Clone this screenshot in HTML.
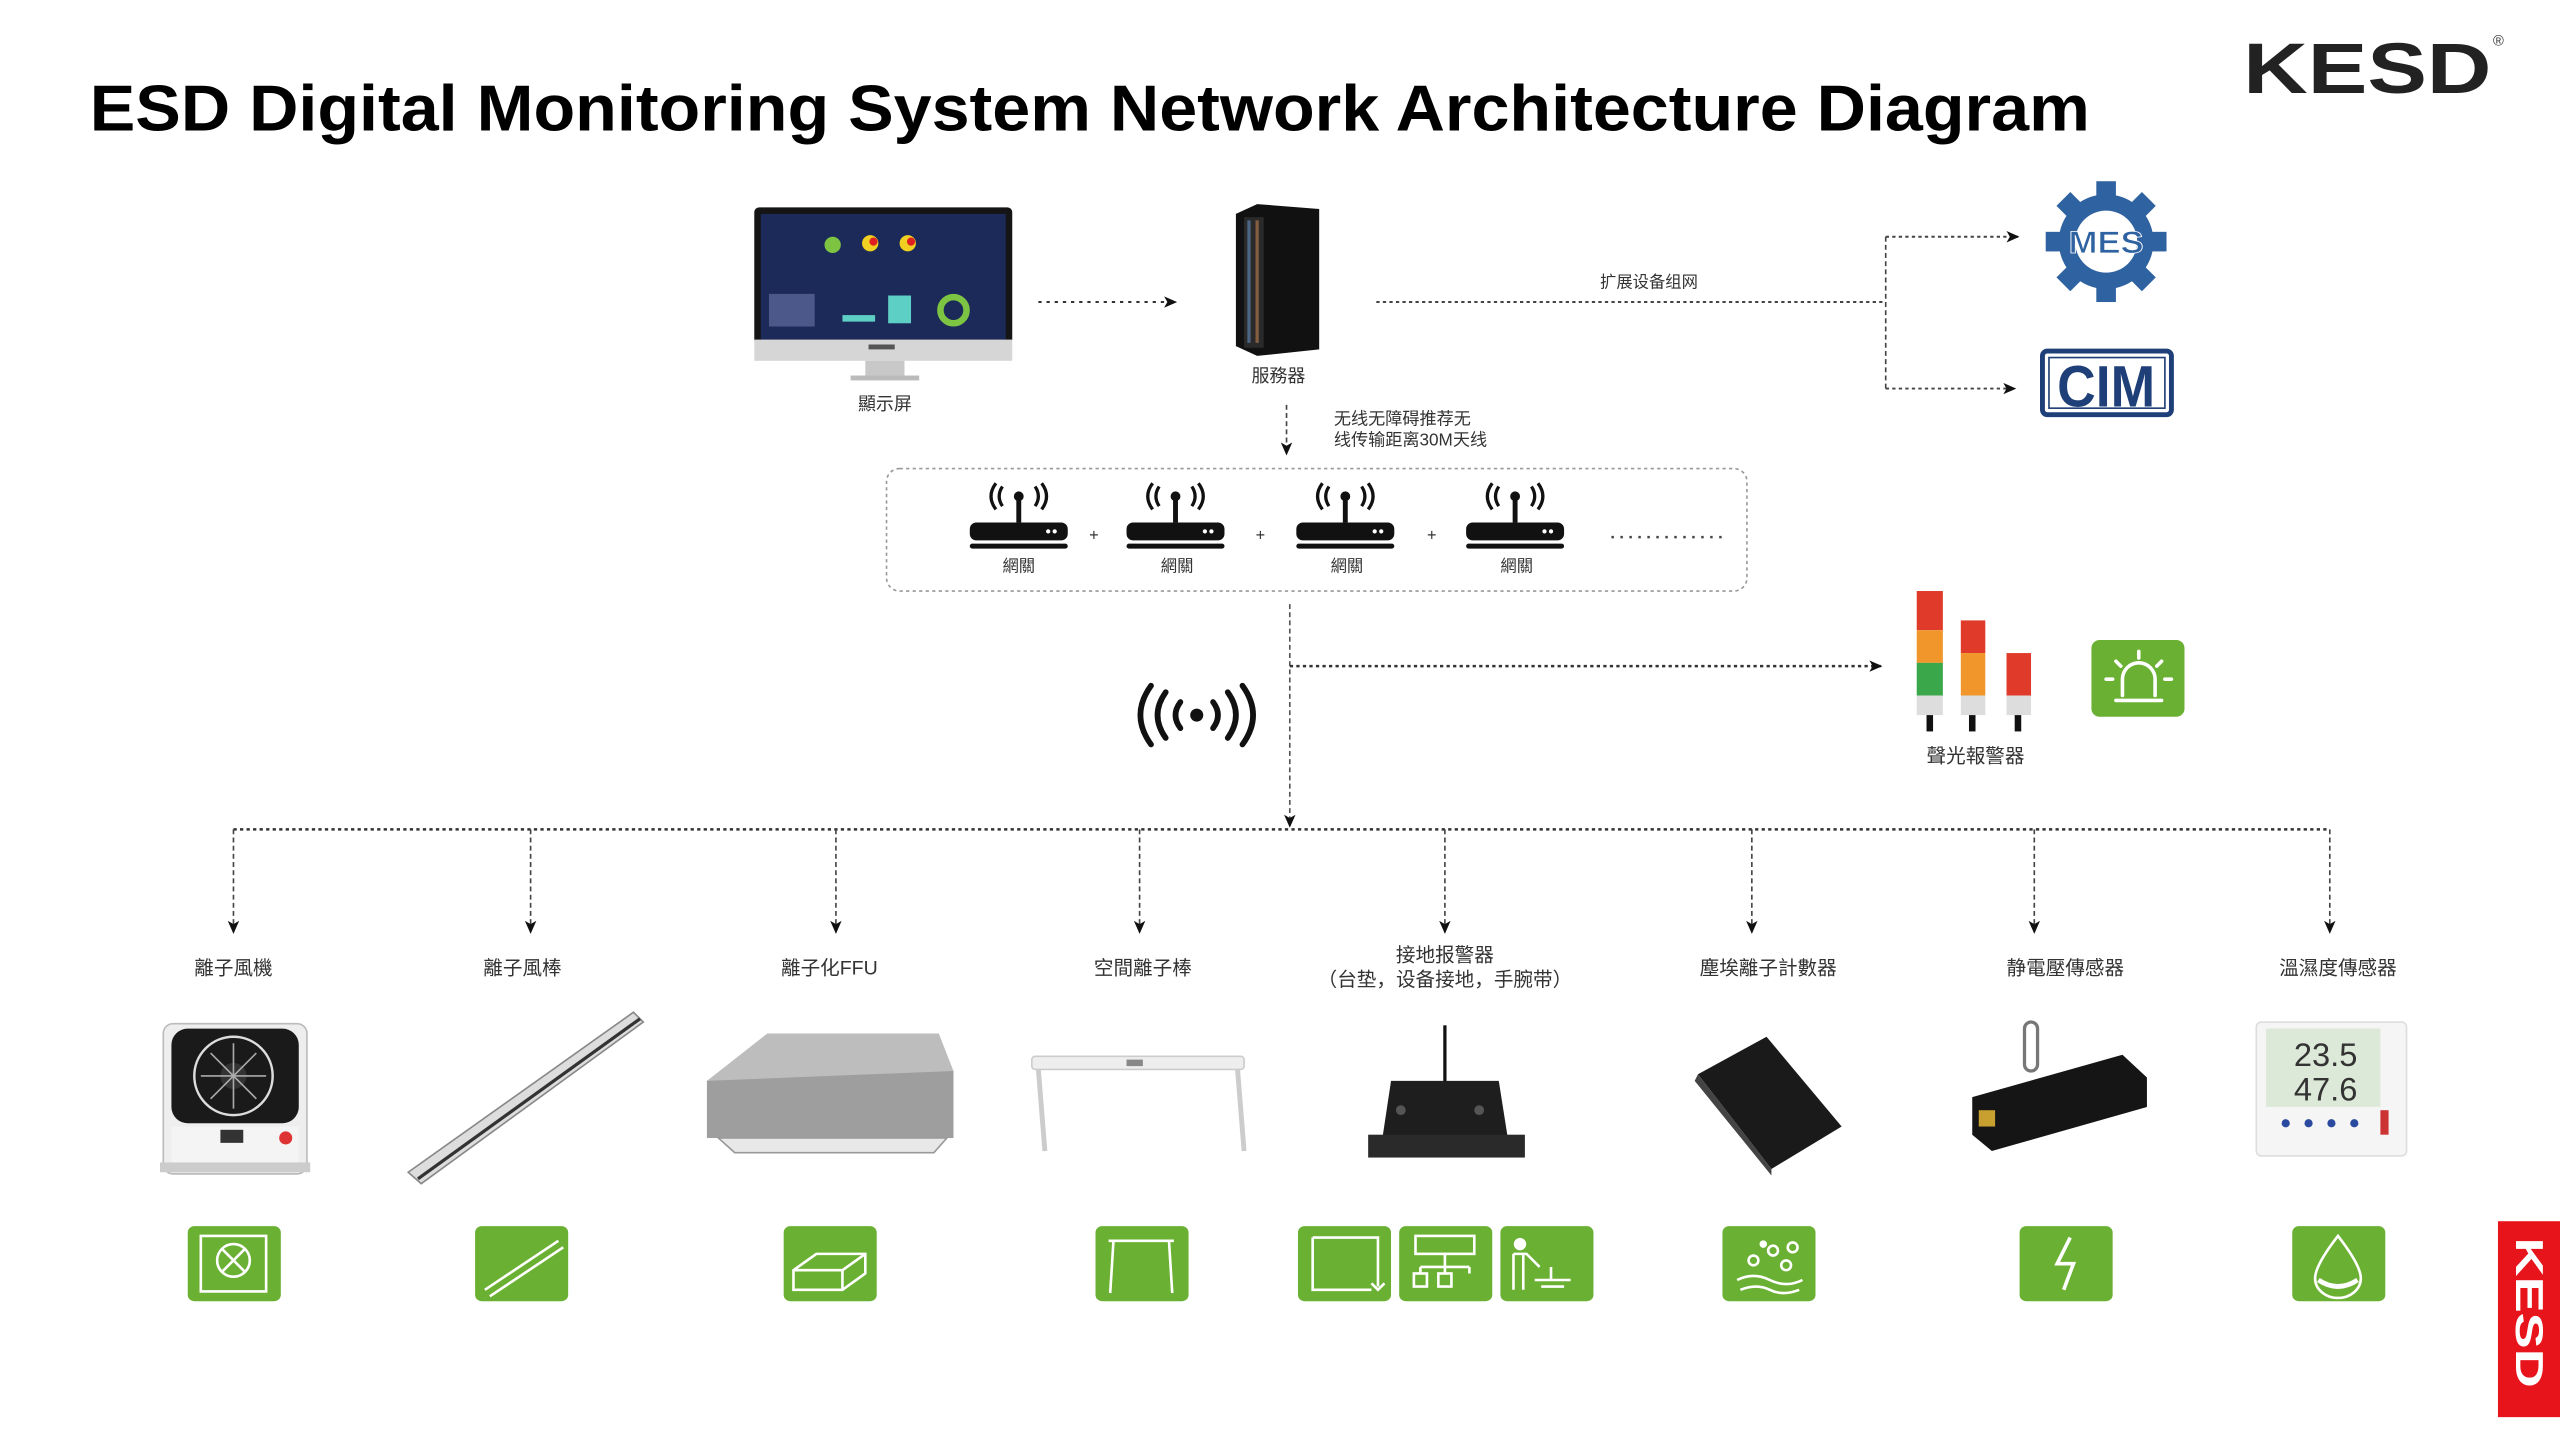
<!DOCTYPE html>
<html><head><meta charset="utf-8"><style>
html,body{margin:0;padding:0;background:#fff;}
svg{display:block;}
text{font-family:"Liberation Sans","Noto Sans CJK SC",sans-serif;}
</style></head><body>
<svg width="2560" height="1440" viewBox="0 0 1568 882" xmlns="http://www.w3.org/2000/svg">
<defs>
<marker id="ar" markerWidth="8" markerHeight="8" refX="7" refY="4" orient="auto" markerUnits="userSpaceOnUse"><path d="M0,0.5 L8,4 L0,7.5 L2,4 Z" fill="#111"/></marker>
<g id="gw">
<path d="M-10,-30 q-4,6 0,12 M10,-30 q4,6 0,12 M-14,-32 q-6,8 0,16 M14,-32 q6,8 0,16" stroke="#111" stroke-width="2" fill="none"/>
<circle cx="0" cy="-24" r="3" fill="#111"/>
<rect x="-1.5" y="-24" width="3" height="16" fill="#111"/>
<rect x="-30" y="-8" width="60" height="11" rx="4" fill="#111"/>
<circle cx="18" cy="-2.5" r="1.3" fill="#fff"/><circle cx="22" cy="-2.5" r="1.3" fill="#fff"/>
<rect x="-30" y="5" width="60" height="3" rx="1.5" fill="#111"/>
</g>
</defs>
<rect width="1568" height="882" fill="#fff"/>
<!-- Title -->
<text x="55" y="80" font-size="40" font-weight="bold" fill="#000" textLength="1225" lengthAdjust="spacingAndGlyphs">ESD Digital Monitoring System Network Architecture Diagram</text>
<!-- KESD logo -->
<text x="1374" y="57" font-size="44" font-weight="bold" fill="#222" textLength="152" lengthAdjust="spacingAndGlyphs">KESD</text>
<text x="1527" y="28" font-size="9" fill="#333">®</text>

<!-- Monitor -->
<rect x="462" y="127" width="158" height="84" rx="3" fill="#151515"/>
<rect x="466" y="131" width="150" height="77" fill="#1c2a5a"/>
<circle cx="510" cy="150" r="5" fill="#7dc442"/><circle cx="533" cy="149" r="5" fill="#f0d020"/><circle cx="556" cy="149" r="5" fill="#f0d020"/>
<circle cx="535" cy="148" r="2.5" fill="#e02020"/><circle cx="558" cy="148" r="2.5" fill="#e02020"/>
<rect x="544" y="181" width="14" height="17" fill="#5ecfc4"/><rect x="516" y="193" width="20" height="4" fill="#5ecfc4"/>
<circle cx="584" cy="190" r="8" fill="none" stroke="#7dc442" stroke-width="4"/>
<rect x="471" y="180" width="28" height="20" fill="#6a78a8" opacity="0.6"/>
<rect x="462" y="208" width="158" height="13" fill="#d6d6d6"/>
<rect x="532" y="211" width="16" height="3" fill="#555"/>
<rect x="530" y="221" width="24" height="9" fill="#c8c8c8"/><rect x="521" y="230" width="42" height="3" fill="#bbb"/>
<text x="542" y="251" font-size="11" fill="#333" text-anchor="middle">顯示屏</text>
<line x1="636" y1="185" x2="720" y2="185" stroke="#333" stroke-width="1.2" stroke-dasharray="2,3" marker-end="url(#ar)"/>

<!-- Server -->
<path d="M757,131 L770,125 L808,128 L808,214 L770,218 L757,212 Z" fill="#111"/>
<rect x="762" y="133" width="12" height="80" fill="#2a2a2a"/>
<rect x="764" y="135" width="2" height="75" fill="#5a7fa8" opacity="0.7"/><rect x="769" y="135" width="2" height="75" fill="#a8734a" opacity="0.7"/>
<text x="783" y="234" font-size="11" fill="#333" text-anchor="middle">服務器</text>

<line x1="843" y1="185" x2="1155" y2="185" stroke="#444" stroke-width="1.2" stroke-dasharray="2,2"/>
<text x="1010" y="176" font-size="10" fill="#333" text-anchor="middle">扩展设备组网</text>
<line x1="1155" y1="145" x2="1155" y2="238" stroke="#444" stroke-width="1" stroke-dasharray="3,2"/>
<line x1="1155" y1="145" x2="1236" y2="145" stroke="#444" stroke-width="1.2" stroke-dasharray="2,2" marker-end="url(#ar)"/>
<line x1="1155" y1="238" x2="1234" y2="238" stroke="#444" stroke-width="1.2" stroke-dasharray="2,2" marker-end="url(#ar)"/>

<!-- MES gear -->
<g transform="translate(1290,148)">
<circle r="29" fill="#2f62a0"/>
<g fill="#2f62a0">
<rect x="-6" y="-37" width="12" height="12"/><rect x="-6" y="25" width="12" height="12"/>
<rect x="-37" y="-6" width="12" height="12"/><rect x="25" y="-6" width="12" height="12"/>
<rect x="-6" y="-37" width="12" height="12" transform="rotate(45)"/><rect x="-6" y="-37" width="12" height="12" transform="rotate(135)"/>
<rect x="-6" y="-37" width="12" height="12" transform="rotate(225)"/><rect x="-6" y="-37" width="12" height="12" transform="rotate(315)"/>
</g>
<circle r="19" fill="#fff"/>
<text y="7" font-size="19" font-weight="bold" fill="#2f62a0" text-anchor="middle" stroke="#fff" stroke-width="0.5" textLength="46" lengthAdjust="spacingAndGlyphs">MES</text>
</g>
<!-- CIM -->
<rect x="1251" y="215" width="79" height="39" rx="3" fill="#fff" stroke="#1e3f78" stroke-width="3"/>
<rect x="1255" y="219" width="71" height="31" fill="none" stroke="#1e3f78" stroke-width="1"/>
<text x="1290" y="249" font-size="36" font-weight="bold" fill="#1e3f78" text-anchor="middle" textLength="60" lengthAdjust="spacingAndGlyphs">CIM</text>

<!-- down from server -->
<line x1="788" y1="248" x2="788" y2="278" stroke="#444" stroke-width="1" stroke-dasharray="3,2" marker-end="url(#ar)"/>
<text x="817" y="260" font-size="10.5" fill="#333">无线无障碍推荐无</text>
<text x="817" y="273" font-size="10.5" fill="#333">线传输距离30M天线</text>

<!-- gateway box -->
<rect x="543" y="287" width="527" height="75" rx="8" fill="none" stroke="#999" stroke-width="1" stroke-dasharray="2,2"/>
<use href="#gw" transform="translate(624,328)"/>
<use href="#gw" transform="translate(720,328)"/>
<use href="#gw" transform="translate(824,328)"/>
<use href="#gw" transform="translate(928,328)"/>
<g font-size="10" fill="#333" text-anchor="middle">
<text x="624" y="350">網關</text><text x="721" y="350">網關</text><text x="825" y="350">網關</text><text x="929" y="350">網關</text>
<text x="670" y="331">+</text><text x="772" y="331">+</text><text x="877" y="331">+</text>
</g>
<line x1="987" y1="329" x2="1057" y2="329" stroke="#444" stroke-width="1.5" stroke-dasharray="1.5,4"/>

<!-- trunk -->
<line x1="790" y1="370" x2="790" y2="506" stroke="#555" stroke-width="1" stroke-dasharray="3,2" marker-end="url(#ar)"/>
<line x1="790" y1="408" x2="1152" y2="408" stroke="#333" stroke-width="1.5" stroke-dasharray="2,2" marker-end="url(#ar)"/>

<!-- wireless icon -->
<g transform="translate(733,438)" fill="none" stroke="#111" stroke-width="3.5" stroke-linecap="round">
<circle r="4" fill="#111" stroke="none"/>
<path d="M-10,-8 q-6,8 0,16 M10,-8 q6,8 0,16"/>
<path d="M-19,-14 q-10,14 0,28 M19,-14 q10,14 0,28"/>
<path d="M-28,-18 q-13,18 0,36 M28,-18 q13,18 0,36"/>
</g>

<!-- tower lights -->
<g>
<rect x="1174" y="362" width="16" height="24" fill="#e03a2a"/><rect x="1174" y="386" width="16" height="20" fill="#f0962a"/><rect x="1174" y="406" width="16" height="20" fill="#3aa84a"/>
<rect x="1174" y="426" width="16" height="12" fill="#ddd"/><rect x="1180" y="438" width="4" height="10" fill="#111"/>
<rect x="1201" y="380" width="15" height="20" fill="#e03a2a"/><rect x="1201" y="400" width="15" height="26" fill="#f0962a"/>
<rect x="1201" y="426" width="15" height="12" fill="#ddd"/><rect x="1206" y="438" width="4" height="10" fill="#111"/>
<rect x="1229" y="400" width="15" height="26" fill="#e03a2a"/>
<rect x="1229" y="426" width="15" height="12" fill="#ddd"/><rect x="1234" y="438" width="4" height="10" fill="#111"/>
</g>
<text x="1210" y="467" font-size="12" fill="#333" text-anchor="middle">聲光報警器</text>
<rect x="1281" y="392" width="57" height="47" rx="5" fill="#6ab033"/>
<g stroke="#fff" stroke-width="2.2" fill="none" stroke-linecap="round">
<path d="M1300,426 v-10 a10,10 0 0 1 20,0 v10"/><path d="M1296,429 h28"/>
<path d="M1310,399 v4 M1296,405 l3,3 M1324,405 l-3,3 M1290,416 h4 M1326,416 h4"/>
</g>

<!-- distribution bus -->
<line x1="143" y1="508" x2="1427" y2="508" stroke="#333" stroke-width="1.5" stroke-dasharray="2,2"/>
<g stroke="#444" stroke-width="1" stroke-dasharray="3,2">
<line x1="143" y1="508" x2="143" y2="571" marker-end="url(#ar)"/>
<line x1="325" y1="508" x2="325" y2="571" marker-end="url(#ar)"/>
<line x1="512" y1="508" x2="512" y2="571" marker-end="url(#ar)"/>
<line x1="698" y1="508" x2="698" y2="571" marker-end="url(#ar)"/>
<line x1="885" y1="508" x2="885" y2="571" marker-end="url(#ar)"/>
<line x1="1073" y1="508" x2="1073" y2="571" marker-end="url(#ar)"/>
<line x1="1246" y1="508" x2="1246" y2="571" marker-end="url(#ar)"/>
<line x1="1427" y1="508" x2="1427" y2="571" marker-end="url(#ar)"/>
</g>
<g font-size="12" fill="#333" text-anchor="middle">
<text x="143" y="597">離子風機</text>
<text x="320" y="597">離子風棒</text>
<text x="508" y="597">離子化FFU</text>
<text x="700" y="597">空間離子棒</text>
<text x="885" y="589">接地报警器</text>
<text x="885" y="604">（台垫，设备接地，手腕带）</text>
<text x="1083" y="597">塵埃離子計數器</text>
<text x="1265" y="597">静電壓傳感器</text>
<text x="1432" y="597">溫濕度傳感器</text>
</g>

<!-- products -->
<rect x="100" y="627" width="88" height="92" rx="6" fill="#eee" stroke="#bbb"/>
<rect x="105" y="630" width="78" height="58" rx="10" fill="#1a1a1a"/>
<circle cx="143" cy="659" r="24" fill="none" stroke="#ddd" stroke-width="1.5"/>
<circle cx="143" cy="659" r="8" fill="#333"/>
<path d="M143,639 L143,679 M123,659 L163,659 M129,645 L157,673 M157,645 L129,673" stroke="#aaa" stroke-width="1"/>
<rect x="105" y="690" width="78" height="22" fill="#f4f4f4"/>
<circle cx="175" cy="697" r="4" fill="#d33"/><rect x="135" y="692" width="14" height="8" fill="#333"/>
<rect x="98" y="712" width="92" height="6" fill="#ccc"/>
<path d="M250,718 L388,620 L394,626 L258,725 Z" fill="#ddd" stroke="#888"/>
<path d="M256,722 L392,624" stroke="#333" stroke-width="2"/>
<path d="M433,662 L470,633 L575,633 L584,656 L584,697 L433,697 Z" fill="#bdbdbd"/>
<path d="M433,662 L584,656 L584,697 L433,697 Z" fill="#9e9e9e"/>
<path d="M440,697 L580,697 L572,706 L450,706 Z" fill="#e8e8e8" stroke="#999"/>
<rect x="632" y="647" width="130" height="8" rx="2" fill="#eee" stroke="#ccc"/>
<rect x="690" y="649" width="10" height="4" fill="#888"/>
<path d="M636,655 L640,705 M758,655 L762,705" stroke="#ccc" stroke-width="3"/>
<line x1="885" y1="628" x2="885" y2="665" stroke="#111" stroke-width="2"/>
<path d="M852,662 L918,662 L924,700 L846,702 Z" fill="#1e1e1e"/>
<rect x="838" y="695" width="96" height="14" fill="#2a2a2a"/>
<circle cx="858" cy="680" r="3" fill="#555"/><circle cx="906" cy="680" r="3" fill="#555"/>
<path d="M1040,658 L1082,635 L1128,690 L1085,716 Z" fill="#1a1a1a"/>
<path d="M1040,658 L1085,716 L1085,720 L1038,662 Z" fill="#444"/>
<rect x="1240" y="626" width="8" height="30" rx="4" fill="none" stroke="#777" stroke-width="2"/>
<path d="M1208,672 L1300,646 L1315,660 L1315,678 L1220,705 L1208,695 Z" fill="#151515"/>
<rect x="1212" y="680" width="10" height="10" fill="#c8a030"/>
<rect x="1382" y="626" width="92" height="82" rx="3" fill="#f5f5f5" stroke="#ddd"/>
<rect x="1388" y="630" width="70" height="48" fill="#dde9d8"/>
<text x="1405" y="653" font-size="20" fill="#333" font-family="Liberation Mono">23.5</text>
<text x="1405" y="674" font-size="20" fill="#333" font-family="Liberation Mono">47.6</text>
<g fill="#2a4aa0"><circle cx="1400" cy="688" r="2.5"/><circle cx="1414" cy="688" r="2.5"/><circle cx="1428" cy="688" r="2.5"/><circle cx="1442" cy="688" r="2.5"/></g>
<rect x="1458" y="680" width="5" height="15" fill="#c33"/>

<!-- green icons -->
<g fill="#6ab033">
<rect x="115" y="751" width="57" height="46" rx="4"/>
<rect x="291" y="751" width="57" height="46" rx="4"/>
<rect x="480" y="751" width="57" height="46" rx="4"/>
<rect x="671" y="751" width="57" height="46" rx="4"/>
<rect x="795" y="751" width="57" height="46" rx="4"/>
<rect x="857" y="751" width="57" height="46" rx="4"/>
<rect x="919" y="751" width="57" height="46" rx="4"/>
<rect x="1055" y="751" width="57" height="46" rx="4"/>
<rect x="1237" y="751" width="57" height="46" rx="4"/>
<rect x="1404" y="751" width="57" height="46" rx="4"/>
</g>
<g stroke="#fff" stroke-width="1.6" fill="none">
<rect x="123" y="757" width="40" height="34"/><circle cx="143" cy="772" r="10"/><path d="M136,765 L150,779 M150,765 L136,779"/>
<path d="M297,790 L342,760 M300,794 L345,764"/>
<path d="M486,778 L500,768 L530,768 L530,780 L516,790 L486,790 Z M486,778 L516,778 L530,768 M516,778 L516,790"/>
<path d="M679,760 h40 M682,760 l-2,32 M716,760 l2,32"/>
<path d="M804,758 h40 v30 M804,758 v32 h36 M840,786 l4,4 l4,-4"/>
<rect x="867" y="757" width="36" height="11"/><path d="M885,768 v8 M870,776 h30 M870,776 v4 M885,776 v4 M900,776 v4"/><rect x="866" y="780" width="8" height="8"/><rect x="881" y="780" width="8" height="8"/>
<path d="M927,768 v22 M933,768 v22 M927,768 h8 l8,8 M950,776 v8 M940,784 h22 M944,788 h14"/>
<circle cx="931" cy="762" r="3" fill="#fff"/>
<circle cx="1074" cy="772" r="3"/><circle cx="1086" cy="766" r="3"/><circle cx="1094" cy="775" r="3"/><circle cx="1080" cy="762" r="1.5" fill="#fff"/><circle cx="1098" cy="764" r="3"/>
<path d="M1064,784 q10,-5 20,0 t20,0 M1066,790 q10,-4 18,0 t18,0"/>
<path d="M1268,758 l-8,16 h10 l-6,16" stroke-width="2.2"/>
<path d="M1432,757 q-14,18 -14,26 a14,12 0 0 0 28,0 q0,-8 -14,-26 Z"/><path d="M1420,784 q12,8 24,0" stroke-width="3"/>
</g>

<!-- red KESD tab -->
<rect x="1530" y="748" width="38" height="120" fill="#e8141b"/>
<text transform="translate(1541,758) rotate(90)" font-size="24" font-weight="bold" fill="#fff" textLength="92" lengthAdjust="spacingAndGlyphs">KESD</text>
</svg>
</body></html>
